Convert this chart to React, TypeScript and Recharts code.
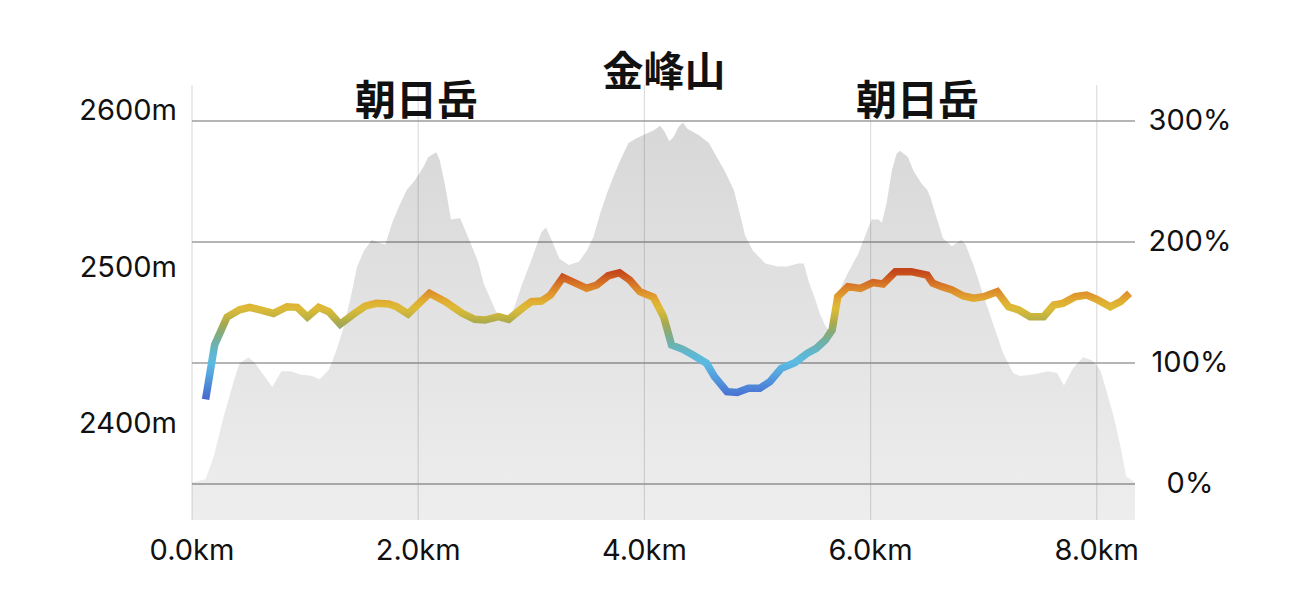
import React from 'react';
import { ComposedChart, Area, Line, XAxis, YAxis, CartesianGrid, ReferenceDot } from 'recharts';

// Elevation profile (gray area): distance in km, elevation in m
const areaKm = [
  0.0, 0.12, 0.19, 0.28, 0.37, 0.42, 0.5, 0.56, 0.62, 0.71, 0.79, 0.87, 0.96, 1.06, 1.13, 1.21, 1.28, 1.34, 1.4, 1.46,
  1.52, 1.59, 1.66, 1.71, 1.77, 1.84, 1.9, 1.97, 2.05, 2.09, 2.16, 2.19, 2.24, 2.29, 2.37, 2.44, 2.53, 2.58, 2.64, 2.69,
  2.75, 2.8, 2.86, 2.92, 3.0, 3.09, 3.13, 3.19, 3.25, 3.33, 3.42, 3.49, 3.55, 3.61, 3.67, 3.74, 3.8, 3.86, 3.93, 4.02,
  4.08, 4.14, 4.18, 4.22, 4.26, 4.3, 4.34, 4.38, 4.48, 4.57, 4.64, 4.71, 4.79, 4.85, 4.89, 4.96, 5.07, 5.18, 5.26, 5.36,
  5.41, 5.45, 5.51, 5.55, 5.6, 5.64, 5.69, 5.74, 5.8, 5.89, 5.97, 6.01, 6.07, 6.1, 6.14, 6.19, 6.23, 6.26, 6.33, 6.38,
  6.45, 6.5, 6.53, 6.58, 6.64, 6.72, 6.8, 6.84, 6.91, 7.0, 7.09, 7.17, 7.26, 7.32, 7.44, 7.57, 7.65, 7.71, 7.79, 7.88,
  7.96, 8.03, 8.08, 8.15, 8.21, 8.26, 8.338,
];
const areaElevation = [
  2362, 2364, 2378, 2404, 2427, 2438, 2442, 2438, 2432, 2423, 2433, 2433, 2431, 2430, 2428, 2434, 2447, 2461, 2479, 2500,
  2510, 2517, 2515, 2514, 2528, 2540, 2549, 2555, 2564, 2570, 2573, 2568, 2551, 2530, 2531, 2519, 2503, 2489, 2479, 2471,
  2467, 2464, 2476, 2489, 2504, 2522, 2525, 2515, 2505, 2501, 2503, 2510, 2519, 2534, 2547, 2560, 2570, 2579, 2582, 2585,
  2587, 2590, 2586, 2580, 2583, 2589, 2592, 2588, 2584, 2579, 2570, 2561, 2549, 2532, 2520, 2510, 2502, 2500, 2500, 2502,
  2502, 2491, 2479, 2470, 2462, 2459, 2472, 2487, 2496, 2508, 2523, 2530, 2530, 2528, 2540, 2562, 2572, 2574, 2570, 2561,
  2553, 2549, 2544, 2532, 2518, 2513, 2517, 2514, 2501, 2481, 2462, 2445, 2432, 2430, 2431, 2433, 2432, 2424, 2435, 2442,
  2440, 2434, 2422, 2404, 2385, 2366, 2362,
];

// Colored line: distance in km, percent
const lineKm = [
  0.12, 0.2, 0.31, 0.42, 0.51, 0.62, 0.72, 0.84, 0.93, 1.02, 1.12, 1.21, 1.31, 1.43, 1.53, 1.63, 1.74, 1.81, 1.91, 2.1,
  2.24, 2.39, 2.5, 2.59, 2.71, 2.8, 2.92, 3.0, 3.09, 3.17, 3.28, 3.49, 3.58, 3.68, 3.78, 3.87, 3.96, 4.08, 4.17, 4.24,
  4.34, 4.43, 4.55, 4.62, 4.73, 4.82, 4.92, 5.02, 5.11, 5.21, 5.33, 5.44, 5.52, 5.6, 5.66, 5.71, 5.8, 5.91, 6.02, 6.11,
  6.22, 6.36, 6.5, 6.55, 6.63, 6.72, 6.82, 6.91, 7.0, 7.12, 7.22, 7.31, 7.41, 7.53, 7.62, 7.7, 7.81, 7.91, 8.0, 8.12,
  8.21, 8.29,
];
const linePercent = [
  70, 115, 138, 144, 146, 143.5, 141, 146.5, 146, 138, 146, 142.4, 132, 140.5, 147, 149.3, 148.8, 146.5, 140.5, 157.6,
  150.7, 141.1, 136.1, 135.5, 138.3, 136.1, 145.2, 150.7, 151.2, 156.2, 170.7, 161.7, 164.5, 172.1, 174.6, 168.6, 158.9, 154.3, 138.3, 114.9,
  111.3, 106.6, 99.8, 88.7, 76.3, 75.6, 79.1, 79.1, 84.5, 95.6, 100.2, 108, 112.1, 119, 127.3, 154.8, 163.1, 161.7, 166.4, 165.3,
  175.5, 175.5, 172.7, 165.9, 163.1, 160.3, 155.4, 153.5, 154.8, 158.9, 146.5, 143.8, 138.3, 138.3, 147.9, 149.3, 154.8, 156.2, 152.6, 146.5,
  150.7, 157.6,
];

const kmTicks = [0, 2, 4, 6, 8];
const elevationTicks = [2400, 2500, 2600];
const percentTicks = [0, 100, 200, 300];

const peakNames = ['朝日岳', '金峰山', '朝日岳'];
const peakKm = [1.985, 4.173, 6.415];
const peakLabelElevation = [2608.5, 2627, 2608.5];

// colour scale of the line by value
const colorStopValues = [176, 170, 163, 156, 150, 145, 139, 133, 125, 117, 108, 100, 90, 80, 70];
const colorStopColors = [
  '#c4461a', '#cf5f22', '#d97f29', '#e09a2e', '#e0b033', '#dcbb37', '#c6b43f', '#a9aa4d',
  '#86ab78', '#6fb1a8', '#5fb7d0', '#5bbbe2', '#55a2de', '#4d85d8', '#4868cf',
];

const FONT = 'Inter, "DejaVu Sans", sans-serif';

const rows: any[] = [
  ...areaKm.map((km, i) => ({ km, elev: areaElevation[i] })),
  ...lineKm.map((km, i) => ({ km, pct: linePercent[i] })),
].sort((a, b) => a.km - b.km);

const pMax = Math.max(...linePercent);
const pMin = Math.min(...linePercent);

const LeftTick = (props: any) => {
  const { x, y, payload } = props;
  return (
    <text x={x - 15} y={y} dy="0.35em" textAnchor="end" fontSize={29} fontFamily={FONT} fill="#111">
      {`${payload.value}m`}
    </text>
  );
};
const RightTick = (props: any) => {
  const { x, y, payload } = props;
  return (
    <text x={x + 55} y={y} dy="0.3em" textAnchor="middle" fontSize={29} fontFamily={FONT} fill="#111">
      {`${payload.value}%`}
    </text>
  );
};
const BottomTick = (props: any) => {
  const { x, y, payload } = props;
  return (
    <text x={x} y={y + 30} dy="0.35em" textAnchor="middle" fontSize={29} fontFamily={FONT} fill="#111">
      {`${Number(payload.value).toFixed(1)}km`}
    </text>
  );
};

export default function App() {
  return (
    <div style={{ width: 1221, height: 600, overflow: 'hidden' }}>
      <ComposedChart width={1221} height={600} data={rows} margin={{ top: 77, right: 0, bottom: 0, left: 0 }}>
        <defs>
          <linearGradient id="elevGrad" x1="0" y1="0" x2="0" y2="1">
            <stop offset="0%" stopColor="#000" stopOpacity={0.155} />
            <stop offset="100%" stopColor="#000" stopOpacity={0.068} />
          </linearGradient>
          <linearGradient id="paceGrad" x1="0" y1="0" x2="0" y2="1">
            {colorStopValues.map((v, i) => (
              <stop key={i} offset={`${((pMax - v) / (pMax - pMin)) * 100}%`} stopColor={colorStopColors[i]} />
            ))}
          </linearGradient>
        </defs>
        <CartesianGrid horizontal={false} vertical syncWithTicks stroke="#dedede" strokeWidth={1.2} />
        <CartesianGrid yAxisId="pct" horizontal vertical={false} syncWithTicks stroke="#9c9c9c" strokeWidth={1.6} />
        <XAxis
          dataKey="km"
          type="number"
          domain={[0, 8.338]}
          ticks={kmTicks}
          interval={0}
          height={88}
          axisLine={false}
          tickLine={false}
          tickSize={0}
          tickMargin={0}
          tick={(p: any) => <BottomTick {...p} />}
        />
        <YAxis
          yAxisId="elev"
          orientation="left"
          type="number"
          domain={[2338, 2616]}
          ticks={elevationTicks}
          interval={0}
          width={184}
          axisLine={false}
          tickLine={false}
          tickSize={0}
          tickMargin={0}
          tick={(p: any) => <LeftTick {...p} />}
        />
        <YAxis
          yAxisId="pct"
          orientation="right"
          type="number"
          domain={[-29.75, 329.75]}
          ticks={percentTicks}
          interval={0}
          width={94}
          axisLine={false}
          tickLine={false}
          tickSize={0}
          tickMargin={0}
          tick={(p: any) => <RightTick {...p} />}
        />
        <Area
          yAxisId="elev"
          dataKey="elev"
          type="linear"
          stroke="none"
          fill="url(#elevGrad)"
          fillOpacity={1}
          connectNulls
          isAnimationActive={false}
          dot={false}
          activeDot={false}
        />
        <Line
          yAxisId="pct"
          dataKey="pct"
          type="linear"
          stroke="url(#paceGrad)"
          strokeWidth={7.5}
          strokeLinejoin="miter"
          connectNulls
          dot={false}
          activeDot={false}
          isAnimationActive={false}
        />
        {peakNames.map((name, i) => (
          <ReferenceDot
            key={i}
            yAxisId="elev"
            x={peakKm[i]}
            y={peakLabelElevation[i]}
            r={0}
            ifOverflow="visible"
            shape={(p: any) => (
              <text
                x={p.cx}
                y={p.cy}
                textAnchor="middle"
                dominantBaseline="central"
                fontSize={41}
                fontWeight={700}
                fontFamily='"Noto Sans CJK JP", sans-serif'
                fill="#111"
              >
                {name}
              </text>
            )}
          />
        ))}
      </ComposedChart>
    </div>
  );
}
